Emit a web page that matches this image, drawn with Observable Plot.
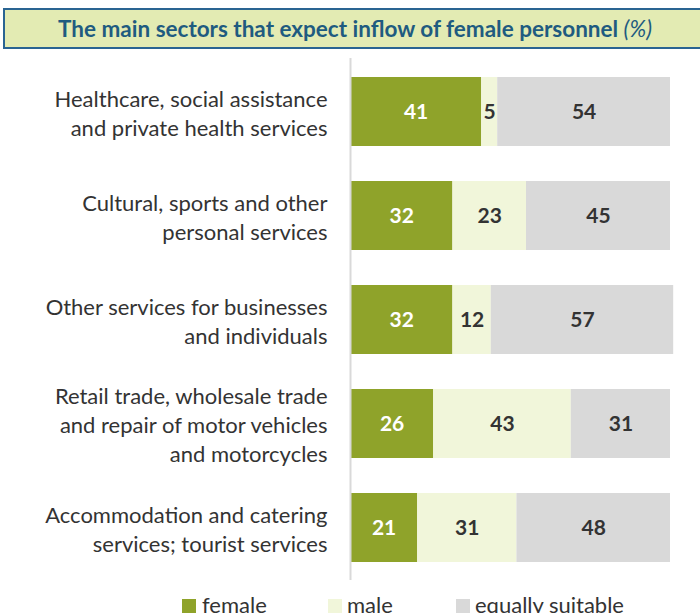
<!DOCTYPE html>
<html>
<head>
<meta charset="utf-8">
<script src="https://cdn.jsdelivr.net/npm/d3@7"></script>
<script src="https://cdn.jsdelivr.net/npm/@observablehq/plot@0.6"></script>
<style>
  html, body { margin: 0; padding: 0; background: #fff; overflow: hidden; }
  body { width: 700px; height: 613px; position: relative; font-family: Lato, "Open Sans", sans-serif; }
  #title {
    position: absolute; left: 3px; top: 8px; width: 720px; height: 37px;
    background: #e3ebb3; border: 2px solid #2a6492; box-sizing: content-box;
  }
  #title span {
    position: absolute; left: 0; width: 700px; top: 5px; text-align: center;
    font-weight: bold; font-size: 22.5px; color: #1f5b80;
  }
  #title i { font-weight: normal; }
  #chart { position: absolute; left: 0; top: 50px; }
  #legend { position: absolute; top: 592px; left: 0; width: 700px; height: 30px; font-size: 22px; color: #333; }
  .sw { position: absolute; top: 7px; width: 14px; height: 14px; }
  .lab { position: absolute; top: 0px; white-space: nowrap; line-height: 26px; }
</style>
</head>
<body>
<div id="title"><span>The main sectors that expect inflow of female personnel <i>(%)</i></span></div>
<div id="chart"></div>
<div id="legend"></div>
<script>
const sectors = [
  "Healthcare, social assistance\nand private health services",
  "Cultural, sports and other\npersonal services",
  "Other services for businesses\nand individuals",
  "Retail trade, wholesale trade\nand repair of motor vehicles\nand motorcycles",
  "Accommodation and catering\nservices; tourist services"
];
const types = ["female", "male", "equally suitable"];
const female = [41, 32, 32, 26, 21];
const male = [5, 23, 12, 43, 31];
const equally = [54, 45, 57, 31, 48];
const colors = ["#8fa32a", "#f1f6da", "#d9d9d9"];

const series = [female, male, equally];
const data = [];
sectors.forEach((s, i) => {
  types.forEach((t, j) => data.push({sector: s, type: t, value: series[j][i]}));
});

const plot = Plot.plot({
  width: 700,
  height: 540,
  marginLeft: 350,
  marginRight: 30,
  marginTop: 8,
  marginBottom: 10,
  x: {domain: [0, 100], axis: null},
  y: {domain: sectors, axis: null, paddingInner: 0.34, paddingOuter: 0.17},
  color: {domain: types, range: colors},
  style: {fontFamily: "Lato, 'Open Sans', sans-serif", overflow: "visible"},
  marks: [
    Plot.barX(data, Plot.stackX({x: "value", y: "sector", fill: "type", order: null})),
    Plot.ruleX([0], {stroke: "#d9d9d9", strokeWidth: 2}),
    Plot.text(data, Plot.stackX({
      x: "value", y: "sector", z: "type", order: null,
      text: d => String(d.value),
      fill: d => d.type === "female" ? "#ffffff" : "#333333",
      fontSize: 21, fontWeight: "bold"
    })),
    Plot.text(sectors, {
      x: 0, y: d => d, text: d => d, dx: -23, textAnchor: "end",
      fontSize: 22, lineHeight: 1.32, fill: "#333333"
    })
  ]
});
document.getElementById("chart").appendChild(plot);

const legend = document.getElementById("legend");
const pos = [[182, 202], [328, 347], [456, 475]];
types.forEach((t, i) => {
  const sw = document.createElement("div");
  sw.className = "sw"; sw.style.left = pos[i][0] + "px"; sw.style.background = colors[i];
  const lab = document.createElement("div");
  lab.className = "lab"; lab.style.left = pos[i][1] + "px"; lab.textContent = t;
  legend.appendChild(sw); legend.appendChild(lab);
});
</script>
</body>
</html>
